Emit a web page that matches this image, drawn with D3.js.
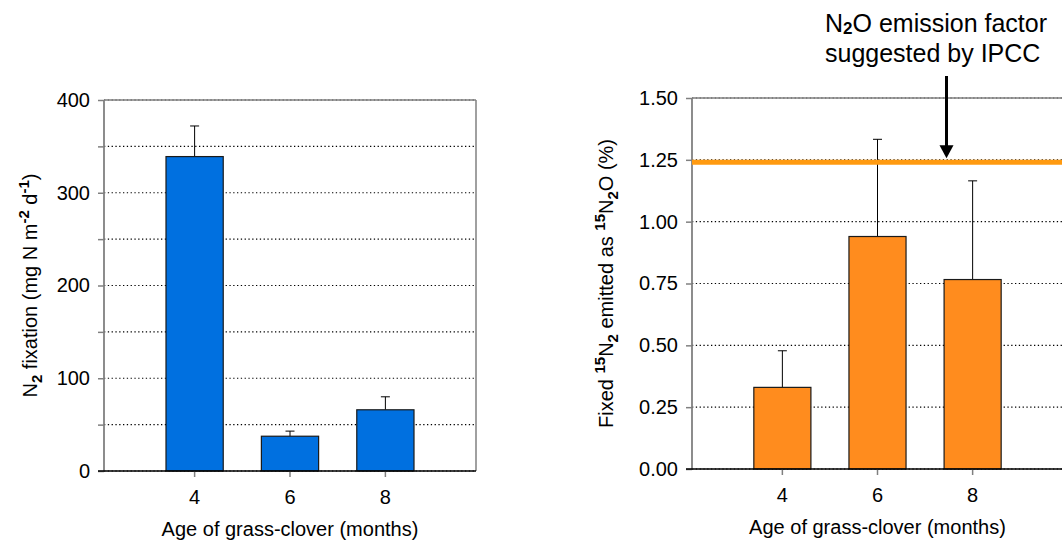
<!DOCTYPE html>
<html>
<head>
<meta charset="utf-8">
<script src="https://cdn.jsdelivr.net/npm/d3@7"></script>
<style>
  body { margin: 0; background: #fff; }
  text { font-family: "Liberation Sans", Arial, sans-serif; fill: #000; }
</style>
</head>
<body>
<div id="chart"></div>
<script>
// data
const ages = ["4", "6", "8"];
const fixation = [339, 37.5, 66];
const fixationErr = [33, 5.5, 14];
const emitted = [0.33, 0.94, 0.766];
const emittedErr = [0.148, 0.393, 0.399];
const ipccFactor = 1.24;
const leftTicks = [0, 100, 200, 300, 400];
const rightTicks = [0, 0.25, 0.5, 0.75, 1.0, 1.25, 1.5];

const W = 1062, H = 543;
const fontSize = 20;

const svg = d3.select("#chart").append("svg")
  .attr("width", W)
  .attr("height", H);

function drawPanel(opt) {
  const x = d3.scaleBand()
    .domain(ages)
    .range([opt.left, opt.right])
    .paddingInner(0.4)
    .paddingOuter(0.65);

  const y = d3.scaleLinear()
    .domain(opt.domain)
    .range([opt.bottom, opt.top]);

  const g = svg.append("g");

  // dotted gridlines
  g.selectAll(".grid")
    .data(opt.grid)
    .enter().append("line")
    .attr("x1", opt.left)
    .attr("x2", opt.right)
    .attr("y1", d => y(d))
    .attr("y2", d => y(d))
    .attr("stroke", "#000")
    .attr("stroke-width", 1.2)
    .attr("stroke-dasharray", "1.3,2.5");

  // frame: top and right in grey
  g.append("line")
    .attr("x1", opt.left).attr("x2", opt.right)
    .attr("y1", opt.top).attr("y2", opt.top)
    .attr("stroke", "#808080").attr("stroke-width", 1.5);
  g.append("line")
    .attr("x1", opt.right).attr("x2", opt.right)
    .attr("y1", opt.top).attr("y2", opt.bottom)
    .attr("stroke", "#808080").attr("stroke-width", 1.5);

  // error bars (upper only)
  const bars = opt.values.map((v, i) => ({ age: ages[i], v: v, e: opt.errors[i] }));
  g.selectAll(".err")
    .data(bars)
    .enter().append("line")
    .attr("x1", d => x(d.age) + x.bandwidth() / 2)
    .attr("x2", d => x(d.age) + x.bandwidth() / 2)
    .attr("y1", d => y(d.v))
    .attr("y2", d => y(d.v + d.e))
    .attr("stroke", "#000")
    .attr("stroke-width", 1);
  g.selectAll(".cap")
    .data(bars)
    .enter().append("line")
    .attr("x1", d => x(d.age) + x.bandwidth() / 2 - 4.5)
    .attr("x2", d => x(d.age) + x.bandwidth() / 2 + 4.5)
    .attr("y1", d => y(d.v + d.e))
    .attr("y2", d => y(d.v + d.e))
    .attr("stroke", "#000")
    .attr("stroke-width", 1);

  // bars
  g.selectAll(".bar")
    .data(bars)
    .enter().append("rect")
    .attr("x", d => x(d.age))
    .attr("y", d => y(d.v))
    .attr("width", x.bandwidth())
    .attr("height", d => y(0) - y(d.v))
    .attr("fill", opt.color)
    .attr("stroke", "#1a1a1a")
    .attr("stroke-width", 1.2);

  // y axis
  const yAxis = d3.axisLeft(y)
    .tickValues(opt.grid)
    .tickSize(6)
    .tickPadding(8)
    .tickFormat(d => opt.labels.includes(d) ? opt.fmt(d) : "");
  const ya = g.append("g")
    .attr("transform", `translate(${opt.left},0)`)
    .call(yAxis);
  ya.select(".domain").remove();
  ya.selectAll(".tick line").attr("stroke", "#808080").attr("stroke-width", 1.5);
  ya.selectAll(".tick text").style("font-size", fontSize + "px").attr("fill", "#000");
  g.append("line")
    .attr("x1", opt.left).attr("x2", opt.left)
    .attr("y1", opt.top).attr("y2", opt.bottom)
    .attr("stroke", "#808080").attr("stroke-width", 1.8);

  // x axis
  const xAxis = d3.axisBottom(x).tickSize(6).tickPadding(13);
  const xa = g.append("g")
    .attr("transform", `translate(0,${opt.bottom})`)
    .call(xAxis);
  xa.select(".domain").remove();
  xa.selectAll(".tick line").attr("stroke", "#808080").attr("stroke-width", 1.5);
  xa.selectAll(".tick text").style("font-size", fontSize + "px").attr("fill", "#000");
  g.append("line")
    .attr("x1", opt.left - 6).attr("x2", opt.right)
    .attr("y1", opt.bottom).attr("y2", opt.bottom)
    .attr("stroke", "#000").attr("stroke-width", 1.5);

  // x title
  g.append("text")
    .attr("x", (opt.left + opt.right) / 2)
    .attr("y", opt.bottom + 58)
    .attr("dy", "0.35em")
    .attr("text-anchor", "middle")
    .style("font-size", fontSize + "px")
    .text("Age of grass-clover (months)");

  // y title with sub/superscripts
  const yt = g.append("text")
    .attr("transform", `translate(${opt.titleX},${(opt.top + opt.bottom) / 2}) rotate(-90)`)
    .attr("dy", "0.35em")
    .attr("text-anchor", "middle")
    .style("font-size", fontSize + "px");
  opt.title.forEach(p => {
    const t = yt.append("tspan").text(p.t);
    if (p.s === "sub") {
      t.attr("dy", 5).style("font-size", "15px").style("font-weight", "bold");
    } else if (p.s === "sup") {
      t.attr("dy", -8).style("font-size", "15px").style("font-weight", "bold");
    }
    if (p.back) t.attr("dy", p.back);
  });

  return { x, y, g };
}

// left panel: N2 fixation
drawPanel({
  left: 104, right: 476, top: 100, bottom: 471,
  domain: [0, 400],
  grid: d3.range(0, 401, 50),
  labels: leftTicks,
  fmt: d3.format("d"),
  values: fixation, errors: fixationErr,
  color: "#0070E0",
  titleX: 30,
  title: [
    { t: "N" },
    { t: "2", s: "sub" },
    { t: " fixation (mg N m", back: -5 },
    { t: "-2", s: "sup" },
    { t: " d", back: 8 },
    { t: "-1", s: "sup" },
    { t: ")", back: 8 }
  ]
});

// right panel: emitted as N2O
const right = drawPanel({
  left: 692, right: 1063, top: 98, bottom: 469,
  domain: [0, 1.5],
  grid: rightTicks,
  labels: rightTicks,
  fmt: d3.format(".2f"),
  values: emitted, errors: emittedErr,
  color: "#FF8C1E",
  titleX: 606,
  title: [
    { t: "Fixed " },
    { t: "15", s: "sup" },
    { t: "N", back: 8 },
    { t: "2", s: "sub" },
    { t: " emitted as ", back: -5 },
    { t: "15", s: "sup" },
    { t: "N", back: 8 },
    { t: "2", s: "sub" },
    { t: "O (%)", back: -5 }
  ]
});

// IPCC emission factor line
right.g.append("line")
  .attr("x1", 692).attr("x2", W)
  .attr("y1", right.y(ipccFactor)).attr("y2", right.y(ipccFactor))
  .attr("stroke", "#FF9A10")
  .attr("stroke-width", 5);

// arrow + annotation
const arrowX = 946.5;
const tipY = right.y(ipccFactor) - 4;
right.g.append("line")
  .attr("x1", arrowX).attr("x2", arrowX)
  .attr("y1", 76).attr("y2", tipY - 12)
  .attr("stroke", "#000").attr("stroke-width", 3);
right.g.append("path")
  .attr("d", `M${arrowX - 7},${tipY - 13} L${arrowX + 7},${tipY - 13} L${arrowX},${tipY} Z`)
  .attr("fill", "#000");

const ann = right.g.append("text")
  .style("font-size", "25px");
const l1 = ann.append("tspan").attr("x", 825).attr("y", 32);
l1.append("tspan").text("N");
l1.append("tspan").text("2").attr("dy", 2).style("font-size", "17px").style("font-weight", "bold");
l1.append("tspan").text("O emission factor").attr("dy", -2);
ann.append("tspan").attr("x", 825).attr("y", 61.5).text("suggested by IPCC");
</script>
</body>
</html>
